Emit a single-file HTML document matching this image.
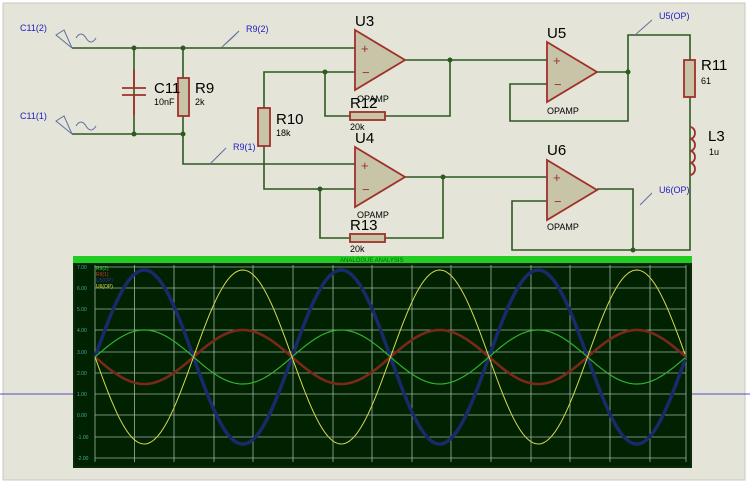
<!DOCTYPE html>
<html><head><style>
body{margin:0;width:750px;height:485px;background:#fff;overflow:hidden}
svg{display:block}
text{font-family:"Liberation Sans",sans-serif}
</style></head><body>
<svg width="750" height="485" viewBox="0 0 750 485">
<rect x="3" y="3" width="742" height="477" fill="#e4e4d8" stroke="#c8c8c0"/>
<line x1="0" y1="394" x2="750" y2="394" stroke="#5050c0" stroke-width="1"/>
<g fill="none" stroke="#2d5a1e" stroke-width="1.6">
<path d="M72 48H355M72 134H183M134 48V134M183 48V164H355"/>
<path d="M355 72H264V189H355M325 72V116H350M385 116H450V60M405 60H548"/>
<path d="M320 189V238H350M385 238H443V177M405 177H548"/>
<path d="M597 72H628V35H690V250H512V201H548M548 84H510V121H628V72"/>
<path d="M597 189H633V250"/>
</g>
<g fill="#2d5a1e"><circle cx="134" cy="48" r="2.5"/><circle cx="183" cy="48" r="2.5"/><circle cx="134" cy="134" r="2.5"/><circle cx="183" cy="134" r="2.5"/><circle cx="325" cy="72" r="2.5"/><circle cx="320" cy="189" r="2.5"/><circle cx="450" cy="60" r="2.5"/><circle cx="443" cy="177" r="2.5"/><circle cx="628" cy="72" r="2.5"/><circle cx="633" cy="250" r="2.5"/></g>
<g stroke="#a0302a" stroke-width="1.8" fill="#c8c4a8">
<path d="M134 70V88M134 95V115M122 88H146M122 95H146" fill="none"/>
<rect x="178" y="78" width="11" height="38"/>
<rect x="258" y="108" width="12" height="38"/>
<rect x="350" y="112" width="35" height="8"/>
<rect x="350" y="234" width="35" height="8"/>
<rect x="684" y="60" width="11" height="37"/>
<path d="M690 127a5 6 0 0 1 0 12a5 6 0 0 1 0 12a5 6 0 0 1 0 12a5 6 0 0 1 0 12" fill="none"/>
<path d="M355 30L405 60L355 90Z"/><path d="M355 147L405 177L355 207Z"/>
<path d="M547 42L597 72L547 102Z"/><path d="M547 160L597 190L547 220Z"/>
</g>
<g fill="#a0302a" font-size="13"><text x="361" y="53">+</text><text x="362" y="77">−</text><text x="361" y="170">+</text><text x="362" y="194">−</text><text x="553" y="65">+</text><text x="554" y="89">−</text><text x="553" y="182">+</text><text x="554" y="206">−</text></g>
<g fill="#000">
<text x="154" y="93" font-size="15">C11</text><text x="154" y="105" font-size="9">10nF</text>
<text x="195" y="93" font-size="15">R9</text><text x="195" y="105" font-size="9">2k</text>
<text x="276" y="124" font-size="15">R10</text><text x="276" y="136" font-size="9">18k</text>
<text x="355" y="26" font-size="15">U3</text><text x="355" y="143" font-size="15">U4</text>
<text x="547" y="38" font-size="15">U5</text><text x="547" y="155" font-size="15">U6</text>
<text x="350" y="108" font-size="15">R12</text><text x="350" y="130" font-size="9">20k</text>
<text x="350" y="230" font-size="15">R13</text><text x="350" y="252" font-size="9">20k</text>
<text x="357" y="102" font-size="9">OPAMP</text><text x="357" y="218" font-size="9">OPAMP</text>
<text x="547" y="114" font-size="9">OPAMP</text><text x="547" y="230" font-size="9">OPAMP</text>
<text x="701" y="70" font-size="15">R11</text><text x="701" y="84" font-size="9">61</text>
<text x="708" y="141" font-size="15">L3</text><text x="709" y="155" font-size="9">1u</text>
</g>
<g fill="#2020c0" font-size="9"><text x="20" y="31">C11(2)</text><text x="20" y="119">C11(1)</text><text x="246" y="32">R9(2)</text><text x="233" y="150">R9(1)</text><text x="659" y="19">U5(OP)</text><text x="659" y="193">U6(OP)</text></g>
<g fill="none" stroke="#6070a0" stroke-width="1"><path d="M72 48L56 35L64 30ZM222 47L239 31L232 38ZM210 164L226 148M635 35L652 20M640 205L652 193M72 134L56 121L64 116Z"/><path d="M76 38q5-8 10 0t10 0M76 126q5-8 10 0t10 0"/></g>
<rect x="73" y="256" width="619" height="212" fill="#0a2a0a"/>
<rect x="73" y="256" width="619" height="7" fill="#22cc22"/>
<text x="340" y="262" font-size="6" fill="#0a6a0a">ANALOGUE ANALYSIS</text>
<rect x="75" y="264" width="615" height="202" fill="#002200"/>
<g stroke="#c8d8c8" stroke-width="0.8" opacity="0.8">
<path d="M95 267H686M95 288H686M95 309H686M95 330H686M95 352H686M95 373H686M95 394H686M95 415H686M95 437H686M95 458H686"/>
<path d="M134.6 265V462M174 265V462M214 265V462M253 265V462M293 265V462M333 265V462M372 265V462M412 265V462M451 265V462M491 265V462M531 265V462M570 265V462M610 265V462M650 265V462M686 265V462M95 265V462"/>
</g>
<g fill="#4aa" font-size="5"><text x="77" y="269">7.00</text><text x="77" y="290">6.00</text><text x="77" y="311">5.00</text><text x="77" y="332">4.00</text><text x="77" y="354">3.00</text><text x="77" y="375">2.00</text><text x="77" y="396">1.00</text><text x="77" y="417">0.00</text><text x="77" y="439">-1.00</text><text x="77" y="460">-2.00</text></g>
<g font-size="5"><text x="96" y="270" fill="#4c4">R9(2)</text><text x="96" y="276" fill="#c33">R9(1)</text><text x="96" y="282" fill="#33a">U5(OP)</text><text x="96" y="288" fill="#dd4">U6(OP)</text></g>
<script>
var ns="http://www.w3.org/2000/svg",svg=document.querySelector('svg');
function wave(a,c,w){var d="";for(var x=95;x<=686;x+=2){var y=357-a*Math.sin(2*Math.PI*(x-95)/197);d+=(x==95?"M":"L")+x+" "+y.toFixed(1);}var p=document.createElementNS(ns,"path");p.setAttribute("d",d);p.setAttribute("stroke",c);p.setAttribute("stroke-width",w);p.setAttribute("fill","none");svg.appendChild(p);}
wave(87,"#182a6a",3.5);wave(-27,"#7a2818",2.6);wave(27,"#30b030",1.2);wave(-87,"#d8d850",1);
</script>
</svg>
</body></html>
